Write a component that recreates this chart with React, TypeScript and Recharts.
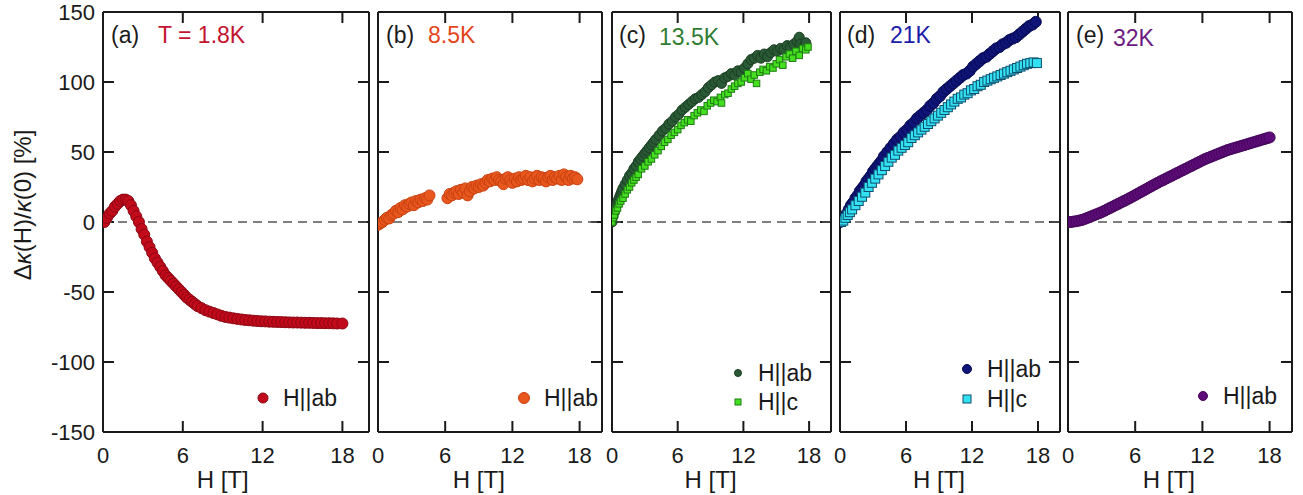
import React from 'react';
import { ScatterChart, Scatter, XAxis, YAxis, ReferenceLine, Customized } from 'recharts';

type Pt = [number, number];

const xTicks = [0, 6, 12, 18];
const xInnerTicks = [6, 12, 18];
const yTicks = [-150, -100, -50, 0, 50, 100, 150];
const yInnerTicks = [-100, -50, 0, 50, 100];

// (a) T = 1.8K, H||ab
const redAb: Pt[] = [
  [0.1, 0], [0.3, 3], [0.5, 6], [0.7, 8], [0.9, 11], [1.1, 13], [1.3, 15], [1.5, 16], [1.7, 16],
  [1.9, 15], [2.1, 12], [2.3, 8], [2.5, 4], [2.7, 0], [2.9, -5], [3.1, -9], [3.3, -14], [3.5, -18],
  [3.7, -22], [3.9, -26], [4.1, -29], [4.3, -32], [4.5, -35], [4.7, -38], [4.9, -40], [5.1, -42],
  [5.3, -44], [5.5, -46], [5.7, -48], [5.9, -50], [6.1, -52], [6.3, -54], [6.5, -55.5], [6.7, -57],
  [6.9, -58.5], [7.1, -60], [7.4, -61.5], [7.7, -63], [8.0, -64], [8.3, -65], [8.6, -66], [8.9, -67],
  [9.2, -67.8], [9.5, -68.3], [9.8, -68.8], [10.1, -69.2], [10.4, -69.6], [10.7, -70], [11.0, -70.2],
  [11.3, -70.5], [11.6, -70.7], [11.9, -70.9], [12.2, -71], [12.5, -71.2], [12.8, -71.3], [13.1, -71.4],
  [13.4, -71.5], [13.7, -71.6], [14.0, -71.7], [14.3, -71.8], [14.6, -71.8], [14.9, -71.9], [15.2, -72],
  [15.5, -72], [15.8, -72.1], [16.1, -72.2], [16.4, -72.2], [16.7, -72.3], [17.0, -72.3], [17.3, -72.4],
  [17.6, -72.5], [18.0, -72.5],
];

// (b) 8.5K, H||ab
const orangeAb: Pt[] = [
  [0.0, -2], [0.2, -1], [0.4, 0], [0.6, 1.5], [0.8, 3], [1.0, 2.5], [1.2, 5], [1.4, 6], [1.6, 8],
  [1.8, 7], [2.0, 10], [2.2, 9], [2.4, 12], [2.6, 11], [2.8, 13], [3.0, 14], [3.2, 12], [3.4, 15],
  [3.6, 14], [3.8, 16], [4.0, 15], [4.2, 17], [4.4, 16], [4.6, 19],
  [6.2, 17], [6.4, 20], [6.6, 19], [6.8, 21], [7.0, 22], [7.2, 20], [7.4, 23], [7.6, 21], [7.8, 24],
  [8.0, 19], [8.2, 22], [8.4, 25], [8.6, 24], [8.8, 26], [9.0, 25], [9.2, 27], [9.4, 26], [9.6, 28],
  [9.8, 30], [10.0, 29], [10.2, 31], [10.4, 30], [10.6, 32], [10.8, 30], [11.0, 29], [11.2, 27],
  [11.4, 31], [11.6, 32], [11.8, 30], [12.0, 28], [12.2, 31], [12.4, 29], [12.6, 32], [12.8, 30],
  [13.0, 31], [13.2, 33], [13.4, 30], [13.6, 32], [13.8, 29], [14.0, 31], [14.2, 33], [14.4, 30],
  [14.6, 32], [14.8, 31], [15.0, 29], [15.2, 32], [15.4, 33], [15.6, 30], [15.8, 32], [16.0, 31],
  [16.2, 33], [16.4, 30], [16.6, 34], [16.8, 32], [17.0, 30], [17.2, 33], [17.4, 31], [17.6, 32], [17.8, 30.5],
];

// (c) 13.5K
const greenAb: Pt[] = [
  [0.0, 0], [0.1, 4], [0.2, 7], [0.3, 10], [0.4, 12], [0.5, 14], [0.6, 16], [0.7, 18], [0.8, 20],
  [0.9, 22], [1.0, 24], [1.2, 27], [1.4, 30], [1.6, 33], [1.8, 35], [2.0, 38], [2.2, 40], [2.4, 43],
  [2.6, 45], [2.8, 47], [3.0, 49], [3.2, 51], [3.4, 53], [3.6, 55], [3.8, 57], [4.0, 59], [4.3, 62],
  [4.6, 65], [4.9, 67], [5.2, 70], [5.5, 72], [5.8, 75], [6.1, 77], [6.4, 80], [6.7, 82], [7.0, 84],
  [7.3, 86], [7.6, 88], [7.9, 89], [8.2, 91], [8.5, 93], [8.8, 96], [9.1, 98], [9.4, 100], [9.7, 101],
  [10.0, 99], [10.3, 103], [10.6, 104], [10.9, 106], [11.2, 105], [11.5, 108], [11.8, 107], [12.1, 110],
  [12.4, 113], [12.7, 116], [13.0, 117], [13.3, 119], [13.6, 117], [13.9, 120], [14.2, 118], [14.5, 121],
  [14.8, 123], [15.1, 122], [15.4, 124], [15.7, 123], [16.0, 126], [16.3, 125], [16.6, 127], [16.9, 129],
  [17.1, 132], [17.2, 127], [17.5, 125], [17.7, 128],
];
const greenC: Pt[] = [
  [0.0, 0], [0.1, 3], [0.2, 5], [0.35, 8], [0.5, 10], [0.65, 13], [0.8, 15], [1.0, 17], [1.2, 20],
  [1.4, 23], [1.6, 25], [1.8, 28], [2.0, 30], [2.2, 32], [2.4, 34], [2.7, 38], [3.0, 40], [3.3, 43],
  [3.6, 45], [3.9, 48], [4.2, 51], [4.5, 54], [4.8, 57], [5.1, 59], [5.4, 62], [5.7, 64], [6.0, 66],
  [6.3, 69], [6.6, 71], [6.9, 73], [7.2, 72], [7.5, 76], [7.8, 78], [8.1, 80], [8.4, 79], [8.7, 83],
  [9.0, 85], [9.3, 87], [9.6, 86], [9.9, 89], [10.0, 85], [10.3, 91], [10.6, 92], [10.9, 95], [11.2, 97],
  [11.5, 99], [11.8, 100], [12.1, 103], [12.4, 106], [12.7, 102], [13.0, 105], [13.2, 99], [13.5, 107],
  [13.8, 109], [14.1, 108], [14.4, 111], [14.7, 110], [15.0, 113], [15.3, 116], [15.6, 112], [15.9, 118],
  [16.2, 120], [16.5, 117], [16.8, 122], [17.1, 119], [17.4, 124], [17.7, 123], [17.9, 125],
];

// (d) 21K
const navyAb: Pt[] = [
  [0, 0], [0.2, 1], [0.4, 3], [0.6, 6], [0.8, 9], [1.0, 12], [1.2, 14], [1.4, 17], [1.6, 19], [1.8, 22],
  [2.0, 24], [2.2, 26], [2.4, 29], [2.6, 31], [2.8, 33], [3.0, 36], [3.2, 38], [3.4, 40], [3.6, 42],
  [3.8, 44], [4.0, 47], [4.3, 50], [4.6, 53], [4.9, 56], [5.2, 59], [5.5, 61], [5.8, 64], [6.1, 66],
  [6.4, 69], [6.7, 71], [7.0, 74], [7.3, 76], [7.6, 78], [7.9, 80], [8.2, 83], [8.5, 85], [8.8, 88],
  [9.1, 90], [9.4, 93], [9.7, 95], [10.0, 97], [10.3, 99], [10.6, 101], [10.9, 103], [11.2, 105],
  [11.5, 106], [11.8, 108], [12.1, 111], [12.4, 113], [12.7, 115], [13.0, 117], [13.3, 118], [13.6, 120],
  [13.9, 122], [14.2, 124], [14.5, 125], [14.8, 127], [15.1, 128], [15.4, 130], [15.7, 131], [16.0, 132],
  [16.3, 134], [16.6, 136], [16.9, 138], [17.2, 140], [17.5, 141], [17.8, 143],
];
const cyanC: Pt[] = [
  [0.1, 0], [0.3, 1], [0.5, 3], [0.7, 5], [0.9, 7], [1.1, 9], [1.4, 12], [1.7, 15], [2.0, 18],
  [2.3, 21], [2.6, 25], [2.9, 28], [3.2, 31], [3.5, 34], [3.8, 37], [4.1, 40], [4.4, 43], [4.7, 46],
  [5.0, 48], [5.3, 51], [5.6, 53], [5.9, 55], [6.2, 57], [6.5, 60], [6.8, 62], [7.1, 64], [7.4, 66],
  [7.7, 68], [8.0, 70], [8.3, 72], [8.6, 74], [8.9, 76], [9.2, 78], [9.5, 80], [9.8, 82], [10.1, 84],
  [10.4, 86], [10.7, 88], [11.0, 89], [11.3, 91], [11.6, 92], [11.9, 94], [12.2, 95], [12.5, 97],
  [12.8, 98], [13.1, 100], [13.4, 101], [13.7, 102], [14.0, 103], [14.3, 104], [14.6, 105], [14.9, 106],
  [15.2, 107], [15.5, 108], [15.8, 109], [16.1, 110], [16.4, 111], [16.7, 112], [17.0, 113], [17.3, 113.5],
  [17.6, 114], [17.9, 113.5],
];

// (e) 32K, H||ab
const purpleAb: Pt[] = [
  [0, 0], [0.25, 0], [0.5, 0.3], [0.75, 0.6], [1.0, 1], [1.25, 1.5], [1.5, 2.2], [1.75, 3], [2.0, 3.8],
  [2.25, 4.6], [2.5, 5.4], [2.75, 6.2], [3.0, 7], [3.25, 8], [3.5, 9], [3.75, 10], [4.0, 11], [4.25, 12],
  [4.5, 13], [4.75, 14], [5.0, 15], [5.25, 16], [5.5, 17], [5.75, 18.1], [6.0, 19.2], [6.25, 20.3],
  [6.5, 21.4], [6.75, 22.5], [7.0, 23.6], [7.25, 24.7], [7.5, 25.8], [7.75, 26.9], [8.0, 28], [8.25, 29],
  [8.5, 30], [8.75, 31], [9.0, 32], [9.25, 33], [9.5, 34], [9.75, 35], [10.0, 36], [10.25, 37], [10.5, 38],
  [10.75, 39], [11.0, 40], [11.25, 41], [11.5, 42], [11.75, 43], [12.0, 44], [12.25, 45], [12.5, 45.8],
  [12.75, 46.6], [13.0, 47.4], [13.25, 48.2], [13.5, 49], [13.75, 49.8], [14.0, 50.6], [14.25, 51.4],
  [14.5, 52], [14.75, 52.6], [15.0, 53.2], [15.25, 53.8], [15.5, 54.4], [15.75, 55], [16.0, 55.6],
  [16.25, 56.2], [16.5, 56.8], [16.75, 57.4], [17.0, 58], [17.25, 58.6], [17.5, 59.2], [17.75, 59.8], [18.0, 60.4],
];

const X_DOMAIN: [number, number] = [0, 20];
const Y_DOMAIN: [number, number] = [-150, 150];
const PLOT_TOP = 12;
const PLOT_BOTTOM = 432;
const TICK_PX = 11;

const FONT = '"Liberation Sans", Arial, Helvetica, sans-serif';
const INK = '#1a1a1a';
const axisStyle = { stroke: INK, strokeWidth: 2 };

const toRows = (pts: Pt[]) => pts.map(([h, v]) => ({ h, v }));

type Marker = { kind: 'circle' | 'square'; size: number; fill: string; stroke: string };
type Series = { name: string; pts: Pt[]; marker: Marker; legendSize: number };
type PanelCfg = {
  left: number;
  plotW: number;
  first?: boolean;
  tag: string;
  temp: string;
  tempColor: string;
  tagDx: number;
  tempDx: number;
  tempY: number;
  legendDx: number;
  legendY: number[];
  series: Series[];
};

const panels: PanelCfg[] = [
  {
    left: 103, plotW: 266, first: true, tag: '(a)', temp: 'T = 1.8K', tempColor: '#c4122f',
    tagDx: 8, tempDx: 55, tempY: 43, legendDx: 160, legendY: [398],
    series: [{ name: 'H||ab', pts: redAb, marker: { kind: 'circle', size: 5.5, fill: '#c20a1b', stroke: '#8a0612' }, legendSize: 5 }],
  },
  {
    left: 378, plotW: 224, tag: '(b)', temp: '8.5K', tempColor: '#e2461a',
    tagDx: 8, tempDx: 50, tempY: 43, legendDx: 146, legendY: [398],
    series: [{ name: 'H||ab', pts: orangeAb, marker: { kind: 'circle', size: 5.5, fill: '#e8571e', stroke: '#c8400f' }, legendSize: 5.5 }],
  },
  {
    left: 612, plotW: 219, tag: '(c)', temp: '13.5K', tempColor: '#2f7d32',
    tagDx: 7, tempDx: 47, tempY: 45, legendDx: 126, legendY: [373, 402],
    series: [
      { name: 'H||ab', pts: greenAb, marker: { kind: 'circle', size: 5, fill: '#2a5a35', stroke: '#1a3d22' }, legendSize: 3.5 },
      { name: 'H||c', pts: greenC, marker: { kind: 'square', size: 6.5, fill: '#44e020', stroke: '#1f7a14' }, legendSize: 6 },
    ],
  },
  {
    left: 840, plotW: 220, tag: '(d)', temp: '21K', tempColor: '#1c1ca8',
    tagDx: 7, tempDx: 50, tempY: 43, legendDx: 127, legendY: [369, 399],
    series: [
      { name: 'H||ab', pts: navyAb, marker: { kind: 'circle', size: 5.5, fill: '#0f1478', stroke: '#070a50' }, legendSize: 4.5 },
      { name: 'H||c', pts: cyanC, marker: { kind: 'square', size: 9, fill: '#33e2f2', stroke: '#0f4e6e' }, legendSize: 8 },
    ],
  },
  {
    left: 1068, plotW: 224, tag: '(e)', temp: '32K', tempColor: '#6b1a80',
    tagDx: 8, tempDx: 45, tempY: 46, legendDx: 135, legendY: [396],
    series: [{ name: 'H||ab', pts: purpleAb, marker: { kind: 'circle', size: 5.5, fill: '#5e0c7a', stroke: '#430658' }, legendSize: 4.5 }],
  },
];

// tick label renderers; with tickSize/tickMargin 0 the (x, y) they get is on the frame line
const BottomLabel = ({ x, y, payload }: any) => (
  <text x={x} y={y + 31} textAnchor="middle" fontFamily={FONT} fontSize={22} fill={INK}>
    {payload.value}
  </text>
);

const LeftLabel = ({ x, y, payload }: any) => (
  <text x={x - 8} y={y} dy="0.36em" textAnchor="end" fontFamily={FONT} fontSize={22} fill={INK}>
    {payload.value}
  </text>
);

const NoLabel = () => <g />;

const markerShape = (m: Marker) => (p: any) =>
  m.kind === 'circle' ? (
    <circle cx={p.cx} cy={p.cy} r={m.size} fill={m.fill} stroke={m.stroke} strokeWidth={1} />
  ) : (
    <rect x={p.cx - m.size / 2} y={p.cy - m.size / 2} width={m.size} height={m.size} fill={m.fill} stroke={m.stroke} strokeWidth={1} />
  );

function Panel({ cfg }: { cfg: PanelCfg }) {
  // axes of zero size are not drawn, so the frame axes get 1px of room
  const ml = cfg.first ? 0 : 13;
  const yw = cfg.first ? 103 : 1;
  const mr = 11;
  const frameX = ml + yw;
  const width = frameX + cfg.plotW + 1 + mr;

  const px = (v: number) => frameX + ((v - X_DOMAIN[0]) / (X_DOMAIN[1] - X_DOMAIN[0])) * cfg.plotW;
  const py = (v: number) => PLOT_BOTTOM - ((v - Y_DOMAIN[0]) / (Y_DOMAIN[1] - Y_DOMAIN[0])) * (PLOT_BOTTOM - PLOT_TOP);

  const Notes = () => (
    <g fontFamily={FONT}>
      {/* inward tick marks on all four sides */}
      {xInnerTicks.map((v) => (
        <g key={`x${v}`}>
          <rect x={px(v) - 1} y={PLOT_TOP} width={2} height={TICK_PX} fill={INK} />
          <rect x={px(v) - 1} y={PLOT_BOTTOM - TICK_PX} width={2} height={TICK_PX} fill={INK} />
        </g>
      ))}
      {yInnerTicks.map((v) => (
        <g key={`y${v}`}>
          <rect x={frameX} y={py(v) - 1} width={TICK_PX} height={2} fill={INK} />
          <rect x={frameX + cfg.plotW - TICK_PX} y={py(v) - 1} width={TICK_PX} height={2} fill={INK} />
        </g>
      ))}
      <text x={frameX + cfg.tagDx} y={43} fontSize={23} fill={INK}>{cfg.tag}</text>
      <text x={frameX + cfg.tempDx} y={cfg.tempY} fontSize={23} fill={cfg.tempColor}>{cfg.temp}</text>
      <text x={px(9)} y={488} fontSize={24} fill={INK} textAnchor="middle">H [T]</text>
      {cfg.first && (
        <text x={22} y={205} fontSize={24} fill={INK} textAnchor="middle" dominantBaseline="central" transform="rotate(-90 22 205)">
          Δ<tspan fontStyle="italic">κ</tspan>(H)/<tspan fontStyle="italic">κ</tspan>(0) [%]
        </text>
      )}
      {cfg.series.map((s, i) => {
        const cx = frameX + cfg.legendDx;
        const cy = cfg.legendY[i];
        const m = s.marker;
        return (
          <g key={s.name}>
            {m.kind === 'circle' ? (
              <circle cx={cx} cy={cy} r={s.legendSize} fill={m.fill} stroke={m.stroke} strokeWidth={1} />
            ) : (
              <rect x={cx - s.legendSize / 2} y={cy - s.legendSize / 2} width={s.legendSize} height={s.legendSize} fill={m.fill} stroke={m.stroke} strokeWidth={1} />
            )}
            <text x={cx + 20} y={cy} dy="0.36em" fontSize={23} fill={INK}>{s.name}</text>
          </g>
        );
      })}
    </g>
  );

  return (
    <div style={{ position: 'absolute', left: cfg.left - frameX, top: 0 }}>
      <ScatterChart width={width} height={495} margin={{ top: 11, right: mr, bottom: 0, left: ml }}>
        <XAxis
          xAxisId="b"
          type="number"
          dataKey="h"
          domain={X_DOMAIN}
          ticks={xTicks}
          interval={0}
          tickSize={0}
          tickMargin={0}
          tickLine={false}
          tick={BottomLabel}
          axisLine={axisStyle}
          height={63}
          allowDataOverflow
        />
        <XAxis
          xAxisId="t"
          orientation="top"
          type="number"
          dataKey="h"
          domain={X_DOMAIN}
          ticks={xInnerTicks}
          interval={0}
          tickSize={0}
          tickLine={false}
          tick={NoLabel}
          axisLine={axisStyle}
          height={1}
          allowDataOverflow
        />
        <YAxis
          yAxisId="l"
          type="number"
          dataKey="v"
          domain={Y_DOMAIN}
          ticks={yTicks}
          interval={0}
          tickSize={0}
          tickMargin={0}
          tickLine={false}
          tick={cfg.first ? LeftLabel : NoLabel}
          axisLine={axisStyle}
          width={yw}
          allowDataOverflow
        />
        <YAxis
          yAxisId="r"
          orientation="right"
          type="number"
          dataKey="v"
          domain={Y_DOMAIN}
          ticks={yTicks}
          interval={0}
          tickSize={0}
          tickLine={false}
          tick={NoLabel}
          axisLine={axisStyle}
          width={1}
          allowDataOverflow
        />
        <ReferenceLine xAxisId="b" yAxisId="l" y={0} stroke="#555" strokeWidth={1.5} strokeDasharray="9 6" />
        {cfg.series.map((s) => (
          <Scatter
            key={s.name}
            name={s.name}
            xAxisId="b"
            yAxisId="l"
            data={toRows(s.pts)}
            shape={markerShape(s.marker)}
            isAnimationActive={false}
          />
        ))}
        <Customized component={Notes} />
      </ScatterChart>
    </div>
  );
}

export default function App() {
  return (
    <div style={{ position: 'absolute', left: 0, top: 0, width: 1303, height: 495, background: '#fff' }}>
      {panels.map((p) => (
        <Panel key={p.tag} cfg={p} />
      ))}
    </div>
  );
}
